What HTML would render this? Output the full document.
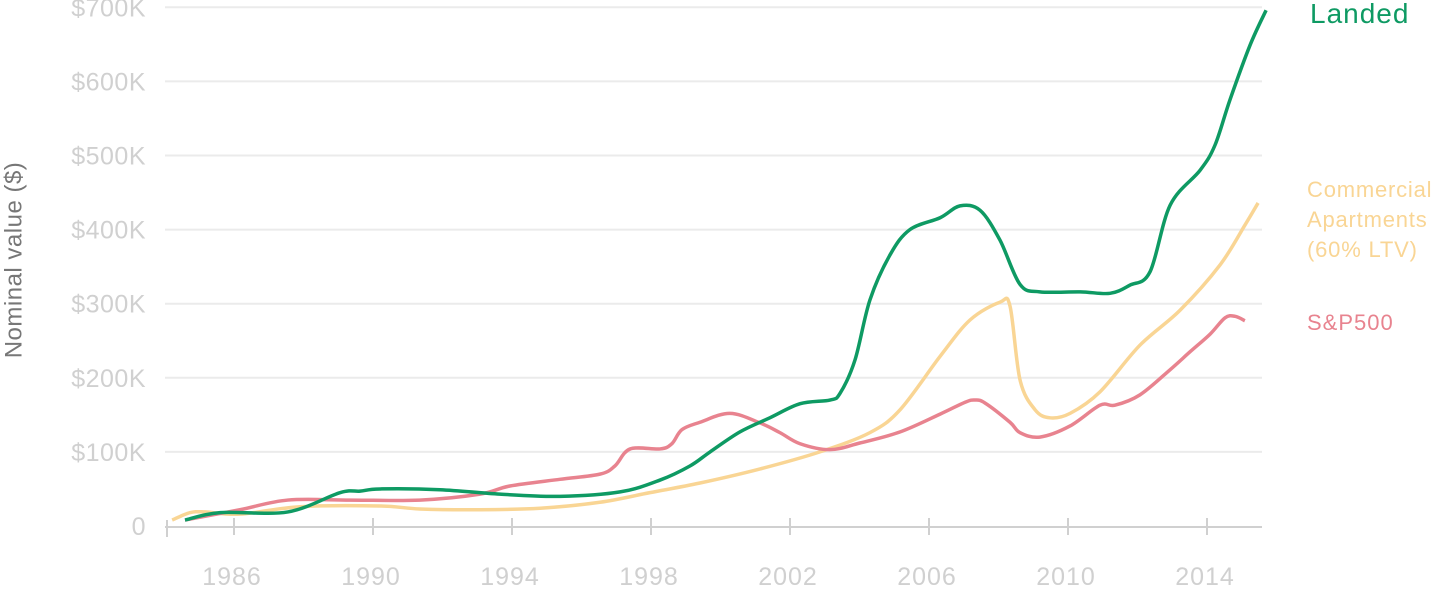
<!DOCTYPE html>
<html><head><meta charset="utf-8"><style>
body{margin:0;background:#fff;width:1438px;height:586px;overflow:hidden}
svg{font-family:"Liberation Sans",sans-serif}
</style></head><body>
<svg id="chart" width="1438" height="586">
<g id="grid"></g>
<g id="yticks"></g>
<g id="xaxis"></g>
<g id="series"></g>
<text x="14" y="260" transform="rotate(-90 14 260)" text-anchor="middle" dominant-baseline="central" font-size="24" letter-spacing="0.5" fill="#777">Nominal value ($)</text>
<text x="1310" y="23" font-size="28" letter-spacing="1" fill="#0e9a63">Landed</text>
<g fill="#f9d594" font-size="22" letter-spacing="0.8">
<text x="1307" y="197">Commercial</text><text x="1307" y="227">Apartments</text><text x="1307" y="257">(60% LTV)</text></g>
<text x="1307" y="330" font-size="22" letter-spacing="1" fill="#e8838f">S&amp;P500</text>
</svg>
<script>
const yTicks=[0,100,200,300,400,500,600,700];
const yTickLabels=["0","$100K","$200K","$300K","$400K","$500K","$600K","$700K"];
const xTicks=[1986,1990,1994,1998,2002,2006,2010,2014];
const landedYears=[1984.59,1985.6,1987.55,1989.05,1989.63,1990.2,1991.93,1993.65,1995.38,1997.11,1998.26,1999.12,1999.7,2000.56,2001.42,2002.29,2003.15,2003.44,2003.87,2004.3,2004.88,2005.45,2006.32,2006.89,2007.47,2008.04,2008.62,2009.19,2010.35,2011.21,2011.78,2012.36,2012.94,2013.8,2014.23,2014.66,2015.24,2015.7];
const landedValues=[8,18,19,45,47,50,49,43,40,46,62,81,100,127,146,165,170,179,224,305,366,400,416,432,426,386,326,316,316,314,325,343,433,480,514,575,649,696];
const commYears=[1984.22,1984.73,1985.17,1986.17,1987.9,1990.2,1991.35,1993.08,1994.81,1996.53,1997.97,1999.41,2001.14,2002.86,2004.3,2005.17,2006.32,2007.18,2008.04,2008.33,2008.62,2009.05,2009.48,2010.06,2010.92,2012.07,2013.22,2014.37,2015.09,2015.47];
const commValues=[8,18,19,16,26,27,23,22,24,32,45,58,77,100,126,157,229,278,302,297,197,157,146,152,181,244,291,352,406,436];
const spYears=[1984.59,1986.17,1987.55,1989.34,1991.35,1993.08,1993.94,1995.38,1996.53,1996.96,1997.4,1998.26,1998.6,1998.89,1999.41,2000.27,2001.14,2001.71,2002.29,2003.15,2004.01,2005.17,2006.32,2007.04,2007.32,2007.61,2008.33,2008.62,2009.19,2010.06,2010.92,2011.35,2012.07,2012.94,2013.51,2014.09,2014.52,2014.81,2015.09];
const spValues=[8,22,35,35,35,43,54,63,70,81,104,104,111,130,140,152,139,126,111,103,112,127,151,167,170,166,140,126,120,135,163,163,177,211,235,259,281,283,277];

const NS="http://www.w3.org/2000/svg";
const X=y=>234+(y-1986)*34.75;
const Y=v=>526-v*0.741;
function mk(tag,parent,attrs){const e=document.createElementNS(NS,tag);for(const k in attrs)e.setAttribute(k,attrs[k]);parent.appendChild(e);return e;}
const grid=document.getElementById('grid'),yt=document.getElementById('yticks'),xa=document.getElementById('xaxis'),ser=document.getElementById('series');
yTicks.forEach((v,i)=>{
  if(v>0){const l=mk('line',grid,{x1:165,x2:1262,y1:Y(v),y2:Y(v),stroke:'#ebebeb','stroke-width':2});
  
  }
  const t=mk('text',yt,{x:146,y:Y(v)+9,'text-anchor':'end','font-size':25,'letter-spacing':0.5,fill:'#d0d0d0'});
  t.textContent=yTickLabels[i];
  
  
});
const ax=mk('line',xa,{x1:165,x2:1262,y1:527,y2:527,stroke:'#d0d0d0','stroke-width':2});


mk('line',xa,{x1:167,x2:167,y1:520,y2:537,stroke:'#d0d0d0','stroke-width':2});
xTicks.forEach(yr=>{
  mk('line',xa,{x1:X(yr),x2:X(yr),y1:518,y2:535,stroke:'#d0d0d0','stroke-width':2});
  const t=mk('text',xa,{x:X(yr)-2,y:585,'text-anchor':'middle','font-size':25,'letter-spacing':1,fill:'#d0d0d0'});
  t.textContent=yr;
  
  
});
function path(xs,vs){
  const p=xs.map((x,i)=>[X(x),Y(vs[i])]);
  let d='M'+p[0][0]+','+p[0][1];
  for(let i=0;i<p.length-1;i++){
    const p0=p[i-1]||p[i],p1=p[i],p2=p[i+1],p3=p[i+2]||p2;
    const c1=[p1[0]+(p2[0]-p0[0])/6,p1[1]+(p2[1]-p0[1])/6];
    const c2=[p2[0]-(p3[0]-p1[0])/6,p2[1]-(p3[1]-p1[1])/6];
    d+=`C${c1[0]},${c1[1]} ${c2[0]},${c2[1]} ${p2[0]},${p2[1]}`;
  }
  return d;
}
const s1=mk('path',ser,{d:path(commYears,commValues),fill:'none',stroke:'#f9d594','stroke-width':3.5,'stroke-linejoin':'round'});


const s2=mk('path',ser,{d:path(spYears,spValues),fill:'none',stroke:'#e8838f','stroke-width':3.5,'stroke-linejoin':'round'});


const s3=mk('path',ser,{d:path(landedYears,landedValues),fill:'none',stroke:'#0e9a63','stroke-width':3.5,'stroke-linejoin':'round'});


</script>
</body></html>
